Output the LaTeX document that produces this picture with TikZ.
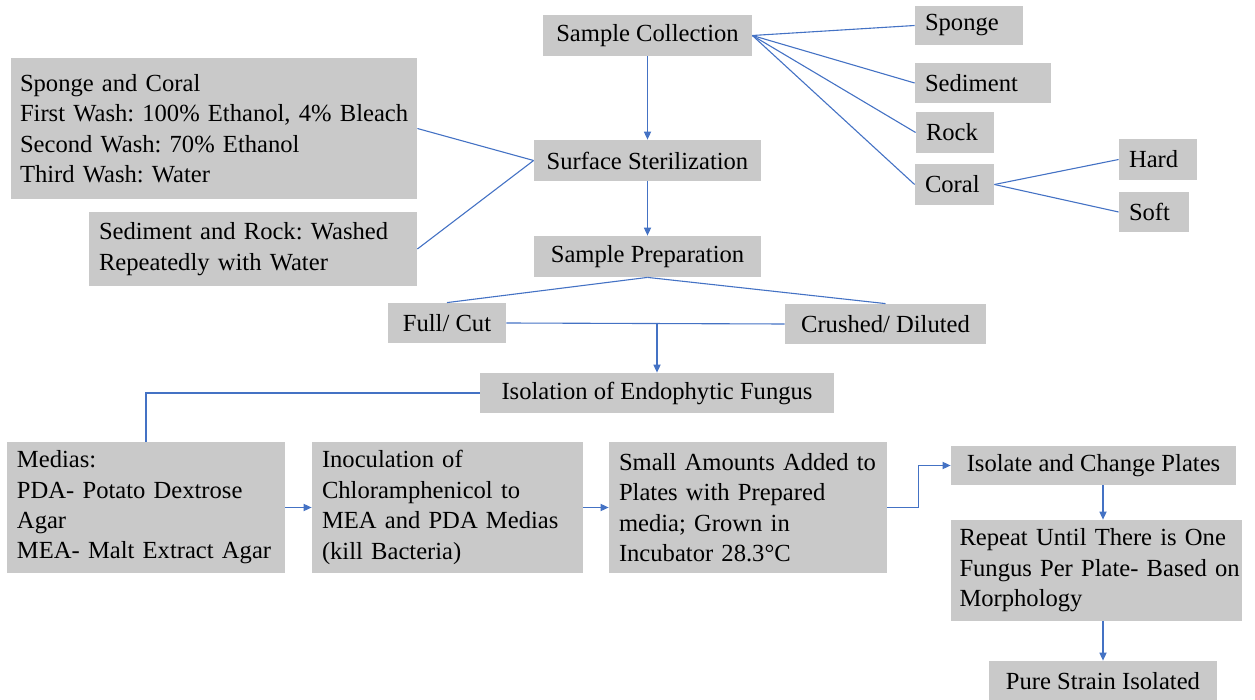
\documentclass[tikz,border=0pt]{standalone}
\usepackage{fontspec}
\setmainfont{Liberation Serif}
\usepackage{xcolor}
\usepackage{tikz}
\usetikzlibrary{arrows.meta}
\definecolor{boxgray}{HTML}{C9C9C9}
\definecolor{linkblue}{HTML}{4472C4}
\tikzset{
  stage/.style={fill=boxgray,inner xsep=5pt,inner ysep=1pt,align=center,font=\fontsize{12.3}{15.2}\selectfont\frenchspacing},
  note/.style={stage,align=left},
  link/.style={draw=linkblue,line width=0.55pt},
}

\begin{document}
\begin{tikzpicture}[x=0.5pt,y=-0.5pt,>={Triangle[length=4pt,width=3.6pt]}]
\useasboundingbox (0,0) rectangle (1255,700);
\node[stage,minimum width=104.5pt,minimum height=20.5pt](samp)at(647.5,35.5){Sample Collection};
\node[stage,minimum width=113.5pt,minimum height=20.5pt](ster)at(647.5,160.5){Surface Sterilization};
\node[note,text width=44pt,minimum height=19.5pt](sponge)at(969,25.5){Sponge};
\node[note,text width=58pt,minimum height=20pt](sediment)at(983,83){Sediment};
\node[note,text width=29pt,minimum height=20.5pt](rock)at(955,132.5){Rock};
\node[note,text width=29.5pt,minimum height=20.5pt](coral)at(954.5,184.5){Coral};
\node[note,text width=29pt,minimum height=20.5pt](hard)at(1158,159.5){Hard};
\node[note,text width=25pt,minimum height=20pt](soft)at(1154,212){Soft};
\node[note,text width=194pt,inner xsep=4.5pt,minimum height=70.5pt](wash1)at(214,128.5){Sponge and Coral\\\mbox{First Wash: 100\% Ethanol, 4\% Bleach}\\Second Wash: 70\% Ethanol\\Third Wash: Water};
\node[note,text width=154pt,minimum height=37pt](wash2)at(253,249){Sediment and Rock: Washed\\Repeatedly with Water};
\node[stage,minimum width=113.5pt,minimum height=20.5pt](prep)at(647.5,256.5){Sample Preparation};
\node[stage,minimum width=59pt,minimum height=20pt](full)at(447,323){Full/ Cut};
\node[stage,minimum width=100.5pt,minimum height=20pt](crush)at(885.5,324){Crushed/ Diluted};
\node[stage,minimum width=177pt,minimum height=20pt](isol)at(657,393){Isolation of Endophytic Fungus};
\node[note,text width=129pt,minimum height=65.5pt](medias)at(146,507.5){Medias:\\PDA- Potato Dextrose\\Agar\\MEA- Malt Extract Agar};
\node[note,text width=125.5pt,minimum height=65.5pt](inoc)at(447.5,507.5){Inoculation of\\Chloramphenicol to\\MEA and PDA Medias\\(kill Bacteria)};
\node[note,text width=129pt,minimum height=65.5pt](small)at(748,507.5){\mbox{Small Amounts Added to}\\Plates with Prepared\\media; Grown in\\Incubator 28.3\textdegree C};
\node[stage,minimum width=142.5pt,minimum height=19.5pt](change)at(1093.5,465.5){Isolate and Change Plates};
\node[note,text width=137pt,inner xsep=4.25pt,minimum height=50.5pt](repeat)at(1096.5,570.5){\mbox{Repeat Until There is One}\\\mbox{Fungus Per Plate- Based on}\\Morphology};
\node[stage,minimum width=114pt,minimum height=20pt](pure)at(1103,681){Pure Strain Isolated};

\draw[link,->](samp.south)--(ster.north);
\foreach \t in {sponge,sediment,rock,coral}
  \draw[link](samp.east)--(\t.west);
\draw[link](coral.east)--(hard.west);
\draw[link](coral.east)--(soft.west);
\draw[link](wash1.east)--(ster.west);
\draw[link](wash2.east)--(ster.west);
\draw[link,->](ster.south)--(prep.north);
\draw[link](prep.south)--(full.north);
\draw[link](prep.south)--(crush.north);
\draw[link](full.east)--(crush.west);
\coordinate(split)at(isol.north |- full.east);
\draw[link,->](split)--(isol.north);
\draw[link](isol.west)-|(medias.north);
\draw[link,->](medias.east)--(inoc.west);
\draw[link,->](inoc.east)--(small.west);
\draw[link,->](small.east)-|([xshift=-16pt]change.west)--(change.west);
\draw[link,->](change.south -| pure.north)--(repeat.north -| pure.north);
\draw[link,->](repeat.south -| pure.north)--(pure.north);
\end{tikzpicture}
\end{document}
